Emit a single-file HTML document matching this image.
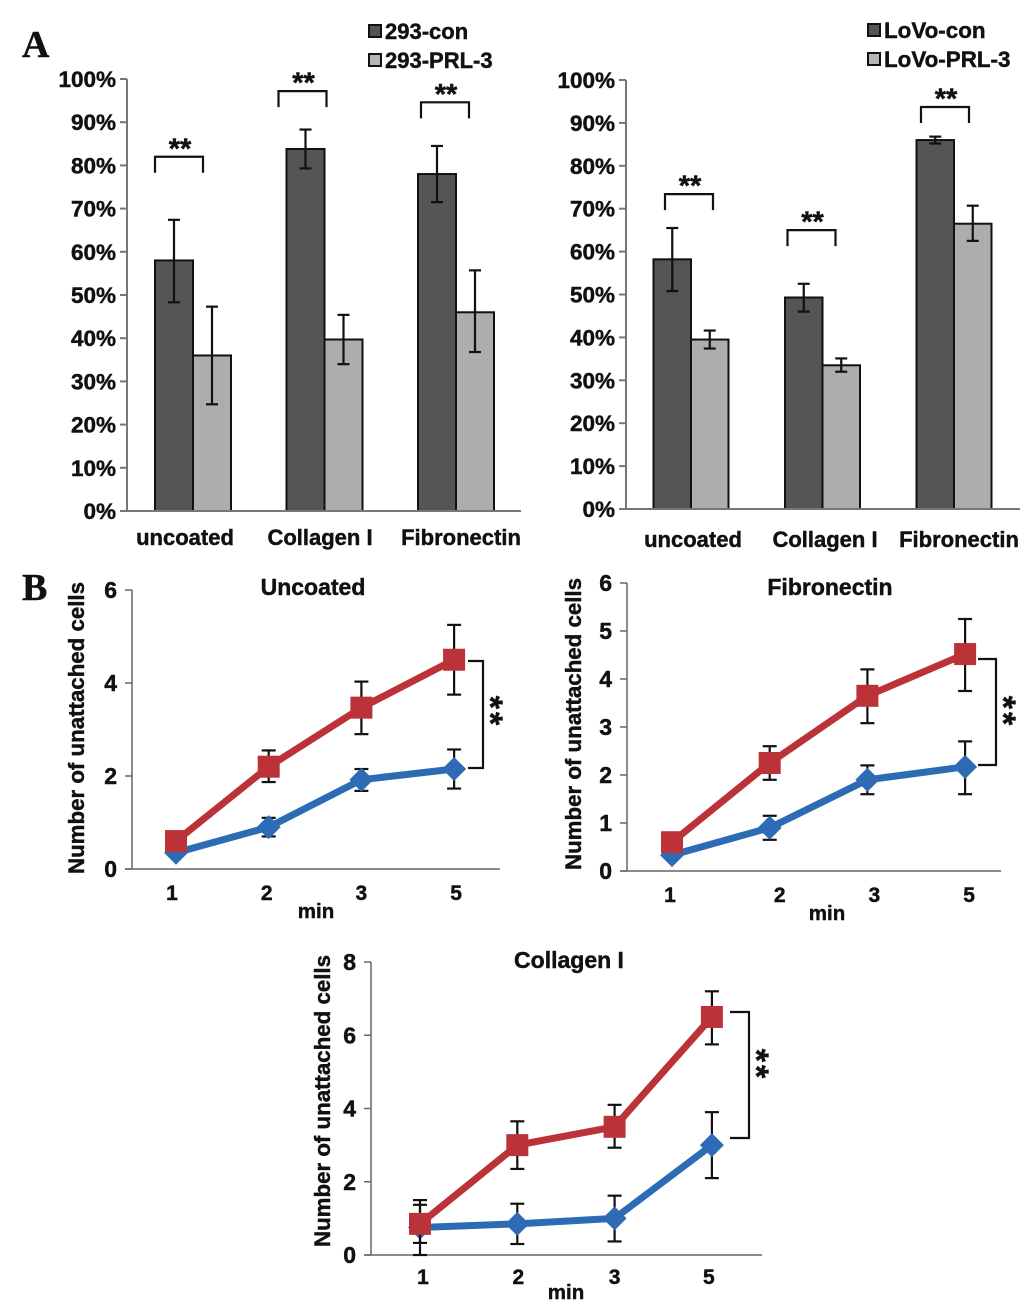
<!DOCTYPE html>
<html lang="en">
<head>
<meta charset="utf-8">
<title>Cell attachment charts</title>
<style>
html,body{margin:0;padding:0;background:#fff;}
svg{display:block;}
text{font-family:"Liberation Sans",sans-serif;font-weight:bold;fill:#111;stroke:#111;stroke-width:0.45px;}
</style>
</head>
<body>
<svg id="figure" width="1033" height="1312" viewBox="0 0 1033 1312" xmlns="http://www.w3.org/2000/svg">
  <rect x="0" y="0" width="1033" height="1312" fill="#fff"/>
  <text x="22" y="57" style="font-family:'Liberation Serif',serif;font-size:38px;">A</text>
  <text x="22" y="600" style="font-family:'Liberation Serif',serif;font-size:38px;">B</text>
</svg>
<script>
/* ---------- Bar chart data (percent) ---------- */
const barCategoriesLeft = ['uncoated', 'Collagen I', 'Fibronectin'];
const barCategoriesRight = ['uncoated', 'Collagen I', 'Fibronectin'];
const percentTicks = [0, 10, 20, 30, 40, 50, 60, 70, 80, 90, 100];

const con293 = [58, 83.8, 78];
const con293Low = [48.3, 79.3, 71.5];
const con293High = [67.4, 88.3, 84.5];
const prl293 = [36, 39.7, 46];
const prl293Low = [24.7, 34, 36.8];
const prl293High = [47.3, 45.4, 55.7];
const sig293 = [82, 97.2, 94.6];

const conLoVo = [58.2, 49.3, 86];
const conLoVoLow = [50.8, 46, 85.2];
const conLoVoHigh = [65.5, 52.5, 86.8];
const prlLoVo = [39.5, 33.5, 66.5];
const prlLoVoLow = [37.4, 32, 62.5];
const prlLoVoHigh = [41.6, 35.1, 70.7];
const sigLoVo = [73.4, 65, 93.7];

/* ---------- Line chart data (cells) ---------- */
const minuteLabels = ['1', '2', '3', '5'];

const uncoatedTicks = [0, 2, 4, 6];
const uncoatedCon = [0.35, 0.9, 1.92, 2.15];
const uncoatedConLow = [0.3, 0.7, 1.68, 1.73];
const uncoatedConHigh = [0.4, 1.1, 2.15, 2.57];
const uncoatedPrl = [0.6, 2.2, 3.47, 4.5];
const uncoatedPrlLow = [0.5, 1.87, 2.9, 3.75];
const uncoatedPrlHigh = [0.7, 2.55, 4.03, 5.25];

const fibronectinTicks = [0, 1, 2, 3, 4, 5, 6];
const fibronectinCon = [0.33, 0.9, 1.9, 2.17];
const fibronectinConLow = [0.28, 0.65, 1.6, 1.6];
const fibronectinConHigh = [0.38, 1.15, 2.2, 2.7];
const fibronectinPrl = [0.6, 2.25, 3.65, 4.52];
const fibronectinPrlLow = [0.5, 1.9, 3.08, 3.75];
const fibronectinPrlHigh = [0.7, 2.6, 4.2, 5.25];

const collagenTicks = [0, 2, 4, 6, 8];
const collagenCon = [0.75, 0.85, 1, 3];
const collagenConLow = [0, 0.3, 0.37, 2.1];
const collagenConHigh = [1.5, 1.4, 1.62, 3.9];
const collagenPrl = [0.85, 3, 3.5, 6.5];
const collagenPrlLow = [0.33, 2.35, 2.93, 5.75];
const collagenPrlHigh = [1.37, 3.65, 4.1, 7.2];

const NS = 'http://www.w3.org/2000/svg';
const root = document.getElementById('figure');

function mk(tag, attrs, parent, name, interact) {
  const el = document.createElementNS(NS, tag);
  for (const k in attrs) {
    if (k !== 'text') el.setAttribute(k, attrs[k]);
  }
  if (attrs.text !== undefined) el.textContent = attrs.text;
  
  
  parent.appendChild(el);
  return el;
}

function drawError(g, x, yLow, yHigh, cap, width, name) {
  mk('line', {x1: x, x2: x, y1: yLow, y2: yHigh, stroke: '#111', 'stroke-width': width}, g, name + '-stem');
  mk('line', {x1: x - cap, x2: x + cap, y1: yLow, y2: yLow, stroke: '#111', 'stroke-width': width}, g, name + '-low-cap');
  mk('line', {x1: x - cap, x2: x + cap, y1: yHigh, y2: yHigh, stroke: '#111', 'stroke-width': width}, g, name + '-high-cap');
}

function barChart(c) {
  const g = mk('g', {}, root, c.name);
  const y = v => c.y0 + (c.y100 - c.y0) * v / 100;
  const xc = i => c.firstCenter + c.step * i;

  percentTicks.forEach(t => {
    mk('line', {x1: c.axisX - 7, x2: c.axisX, y1: y(t), y2: y(t), stroke: '#777', 'stroke-width': 2}, g, 'y-tick-' + t);
    mk('text', {x: c.axisX - 11, y: y(t) + 8, 'text-anchor': 'end', style: 'font-size:22.5px'}, g, 'y-label-' + t).textContent = t + '%';
  });
  mk('line', {x1: c.axisX, x2: c.axisX, y1: c.y100, y2: c.y0, stroke: '#777', 'stroke-width': 2}, g, 'y-axis');

  c.categories.forEach((cat, i) => {
    const x = xc(i);
    const h = c.barW;
    mk('rect', {x: x - h, y: y(c.con[i]), width: h, height: c.y0 - y(c.con[i]), fill: '#555558', stroke: '#111', 'stroke-width': 2}, g, 'bar-con-' + i);
    mk('rect', {x: x, y: y(c.prl[i]), width: h, height: c.y0 - y(c.prl[i]), fill: '#adadaf', stroke: '#111', 'stroke-width': 2}, g, 'bar-prl-' + i);
    drawError(g, x - h / 2, y(c.conLow[i]), y(c.conHigh[i]), 6, 2.2, 'error-con-' + i);
    drawError(g, x + h / 2, y(c.prlLow[i]), y(c.prlHigh[i]), 6, 2.2, 'error-prl-' + i);
    mk('text', {x: c.labelX[i], y: c.labelY, 'text-anchor': 'middle', style: 'font-size:22px'}, g, 'x-label-' + i).textContent = cat;

    const by = y(c.sig[i]);
    const bl = x + c.bracket[i];
    const br = bl + 48;
    mk('path', {d: 'M' + bl + ' ' + (by + 16) + 'V' + by + 'H' + br + 'V' + (by + 16), fill: 'none', stroke: '#111', 'stroke-width': 2.2}, g, 'significance-bracket-' + i);
    mk('text', {x: (bl + br) / 2 + 1, y: by + 1.5, 'text-anchor': 'middle', style: 'font-size:29px'}, g, 'significance-stars-' + i).textContent = '**';
  });
  mk('line', {x1: c.axisX - 7, x2: c.axisEnd, y1: c.y0, y2: c.y0, stroke: '#777', 'stroke-width': 2}, g, 'x-axis');

  c.legend.forEach((label, i) => {
    const ly = c.legendY + i * 29;
    mk('rect', {x: c.legendX, y: ly - 6, width: 12, height: 12, fill: i ? '#b5b5b5' : '#555558', stroke: '#111', 'stroke-width': 2}, g, 'legend-swatch-' + i);
    mk('text', {x: c.legendX + 16, y: ly + 8, style: 'font-size:' + c.legendSize + 'px'}, g, 'legend-entry-' + i).textContent = label;
  });
}

function lineChart(c) {
  const g = mk('g', {}, root, c.name);
  const y = v => c.y0 + (c.yTop - c.y0) * v / c.max;
  const x = i => c.firstX + c.stepX * i;

  c.ticks.forEach(t => {
    mk('line', {x1: c.axisX - 7, x2: c.axisX, y1: y(t), y2: y(t), stroke: '#666', 'stroke-width': 1.5}, g, 'y-tick-' + t);
    mk('text', {x: c.axisX - 15, y: y(t) + 8, 'text-anchor': 'end', style: 'font-size:23px'}, g, 'y-label-' + t).textContent = t;
  });
  mk('line', {x1: c.axisX, x2: c.axisX, y1: c.yTop, y2: c.y0, stroke: '#666', 'stroke-width': 1.5}, g, 'y-axis');
  mk('line', {x1: c.axisX - 7, x2: c.axisEnd, y1: c.y0, y2: c.y0, stroke: '#666', 'stroke-width': 1.5}, g, 'x-axis');

  minuteLabels.forEach((m, i) => {
    mk('text', {x: x(i) + c.labelShift[i], y: c.y0 + c.tickDy, 'text-anchor': 'middle', style: 'font-size:21px'}, g, 'x-label-' + m).textContent = m;
  });
  mk('text', {x: c.minX, y: c.y0 + c.minDy, 'text-anchor': 'middle', style: 'font-size:20.5px'}, g, 'x-axis-title').textContent = 'min';
  mk('text', {x: c.titleX, y: c.titleY, 'text-anchor': 'middle', style: 'font-size:23px'}, g, 'chart-title').textContent = c.title;

  const yt = mk('text', {transform: 'translate(' + c.yTitleX + ' ' + c.yTitleY + ') rotate(-90)', 'text-anchor': 'middle', style: 'font-size:22px', textLength: 292, lengthAdjust: 'spacingAndGlyphs'}, g, 'y-axis-title');
  yt.textContent = 'Number of unattached cells';

  const drawSeries = (values, low, high, color, edge, key) => {
    values.forEach((v, i) => drawError(g, x(i), y(low[i]), y(high[i]), 7, 2.2, 'error-' + key + '-' + minuteLabels[i]));
    const pts = values.map((v, i) => x(i) + ',' + y(v)).join(' ');
    mk('polyline', {points: pts, fill: 'none', stroke: color, 'stroke-width': 7, 'stroke-linejoin': 'round'}, g, 'line-' + key);
    values.forEach((v, i) => {
      if (key === 'prl') {
        mk('rect', {x: x(i) - 10.5, y: y(v) - 10.5, width: 21, height: 21, fill: color, stroke: edge, 'stroke-width': 1}, g, 'point-prl-' + minuteLabels[i]);
      } else {
        const px = x(i), py = y(v), r = 12;
        mk('polygon', {points: px + ',' + (py - r) + ' ' + (px + r) + ',' + py + ' ' + px + ',' + (py + r) + ' ' + (px - r) + ',' + py, fill: color}, g, 'point-con-' + minuteLabels[i]);
      }
    });
  };
  drawSeries(c.con, c.conLow, c.conHigh, '#2d6cb5', '#2d6cb5', 'con');
  drawSeries(c.prl, c.prlLow, c.prlHigh, '#bb3338', '#bb3338', 'prl');

  const sx = c.sigX;
  mk('path', {d: 'M' + (sx - c.sigW) + ' ' + c.sigTop + 'H' + sx + 'V' + c.sigBottom + 'H' + (sx - c.sigW), fill: 'none', stroke: '#111', 'stroke-width': 2.2}, g, 'significance-bracket');
  const sy = c.sigStarY;
  mk('text', {transform: 'translate(' + (sx - 4) + ' ' + sy + ') rotate(90)', 'text-anchor': 'middle', style: 'font-size:34px;letter-spacing:3px'}, g, 'significance-stars').textContent = '**';
}

barChart({
  name: 'chart-293-attachment', categories: barCategoriesLeft,
  con: con293, conLow: con293Low, conHigh: con293High,
  prl: prl293, prlLow: prl293Low, prlHigh: prl293High, sig: sig293,
  axisX: 127, axisEnd: 521, y0: 511, y100: 79,
  firstCenter: 193, step: 131.5, barW: 38,
  labelX: [185, 320, 461], labelY: 545,
  bracket: [-38, -46, -35],
  legend: ['293-con', '293-PRL-3'], legendX: 369, legendY: 31, legendSize: 22
});
barChart({
  name: 'chart-lovo-attachment', categories: barCategoriesRight,
  con: conLoVo, conLow: conLoVoLow, conHigh: conLoVoHigh,
  prl: prlLoVo, prlLow: prlLoVoLow, prlHigh: prlLoVoHigh, sig: sigLoVo,
  axisX: 626, axisEnd: 1020, y0: 509, y100: 80,
  firstCenter: 691, step: 131.5, barW: 37.5,
  labelX: [693, 825, 959], labelY: 547,
  bracket: [-26, -35, -33],
  legend: ['LoVo-con', 'LoVo-PRL-3'], legendX: 868, legendY: 30, legendSize: 22.4
});
lineChart({
  name: 'chart-uncoated', title: 'Uncoated', ticks: uncoatedTicks, max: 6,
  con: uncoatedCon, conLow: uncoatedConLow, conHigh: uncoatedConHigh,
  prl: uncoatedPrl, prlLow: uncoatedPrlLow, prlHigh: uncoatedPrlHigh,
  axisX: 132, axisEnd: 500, y0: 869, yTop: 590,
  firstX: 176, stepX: 92.7, labelShift: [-4, -2, 0, 2], minX: 316, tickDy: 31, minDy: 49,
  titleX: 313, titleY: 595, yTitleX: 84, yTitleY: 728,
  sigX: 483, sigW: 15, sigTop: 661, sigBottom: 768, sigStarY: 712
});
lineChart({
  name: 'chart-fibronectin', title: 'Fibronectin', ticks: fibronectinTicks, max: 6,
  con: fibronectinCon, conLow: fibronectinConLow, conHigh: fibronectinConHigh,
  prl: fibronectinPrl, prlLow: fibronectinPrlLow, prlHigh: fibronectinPrlHigh,
  axisX: 627, axisEnd: 1001, y0: 871, yTop: 583,
  firstX: 672, stepX: 97.7, labelShift: [-2, 10, 7, 4], minX: 827, tickDy: 31, minDy: 49,
  titleX: 830, titleY: 595, yTitleX: 581, yTitleY: 724,
  sigX: 996, sigW: 18, sigTop: 659, sigBottom: 765, sigStarY: 712
});
lineChart({
  name: 'chart-collagen', title: 'Collagen I', ticks: collagenTicks, max: 8,
  con: collagenCon, conLow: collagenConLow, conHigh: collagenConHigh,
  prl: collagenPrl, prlLow: collagenPrlLow, prlHigh: collagenPrlHigh,
  axisX: 371, axisEnd: 762, y0: 1255, yTop: 962,
  firstX: 420, stepX: 97.3, labelShift: [3, 1, 0, -3], minX: 566, tickDy: 29, minDy: 44,
  titleX: 569, titleY: 968, yTitleX: 330, yTitleY: 1101,
  sigX: 749, sigW: 19, sigTop: 1012, sigBottom: 1138, sigStarY: 1065
});
</script>
</body>
</html>
